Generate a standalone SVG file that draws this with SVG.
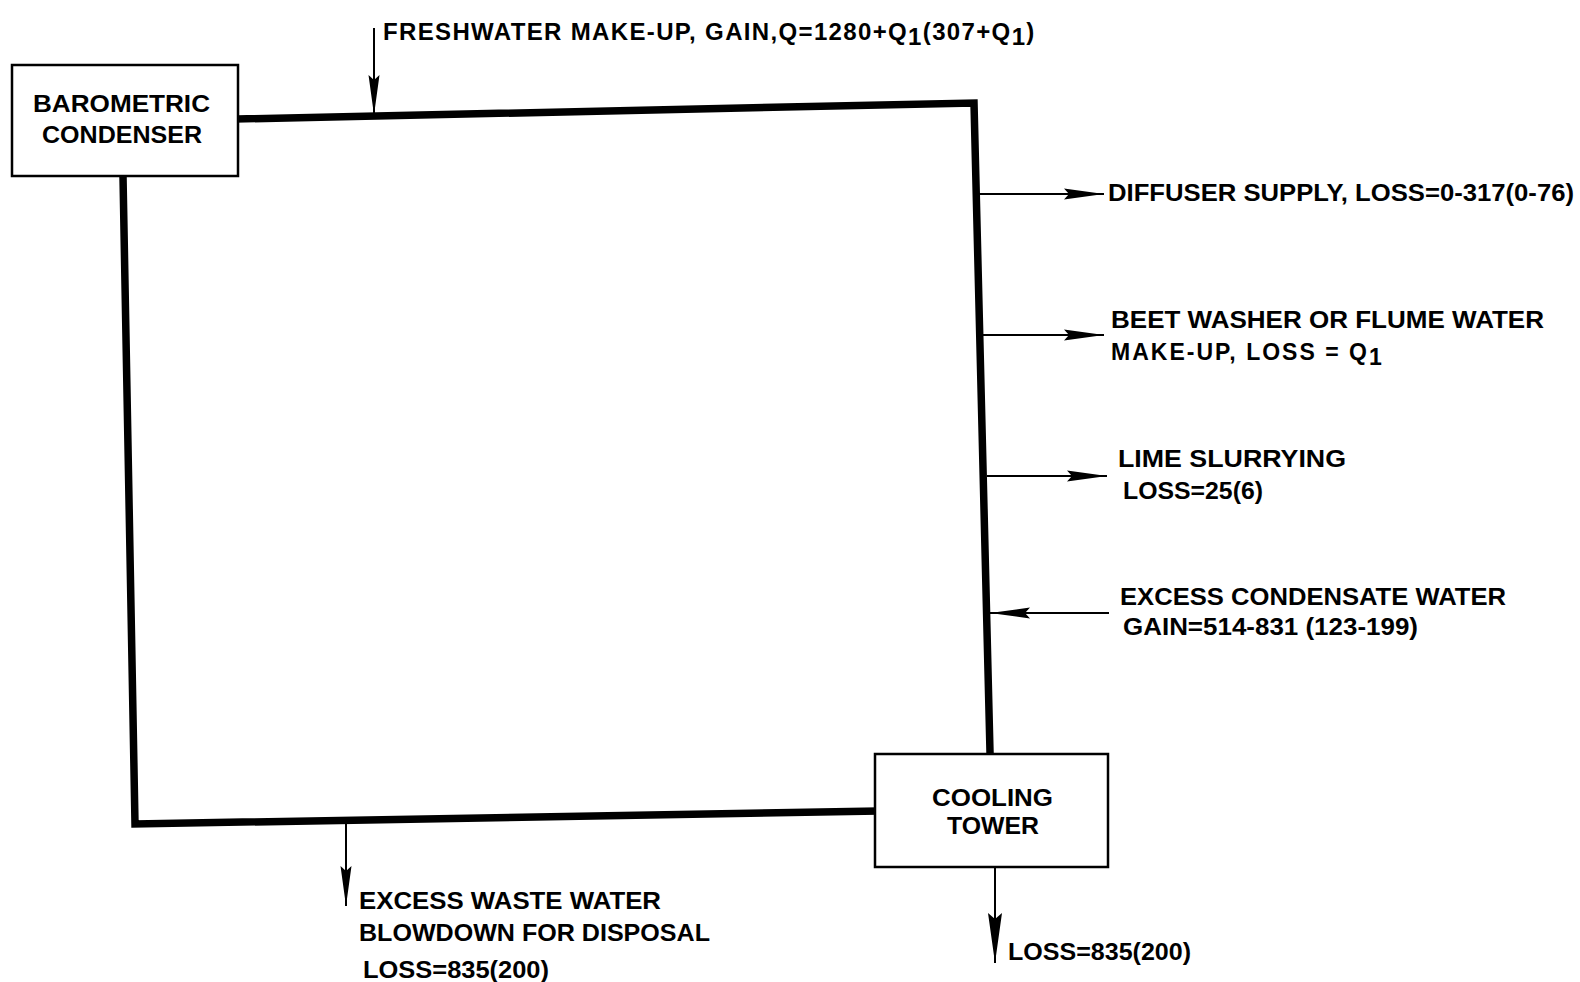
<svg xmlns="http://www.w3.org/2000/svg" width="1580" height="982" viewBox="0 0 1580 982">
<style>
.bg{fill:#fff}
.box{fill:#fff;stroke:#000;stroke-width:2.5}
.pipe{fill:none;stroke:#000;stroke-width:7.5;stroke-linejoin:miter;stroke-linecap:square}
.flow{fill:none;stroke:#000;stroke-width:2}
.lbl{font-family:"Liberation Sans",Arial,sans-serif;font-weight:bold;font-size:23px;fill:#000}
</style>
<defs>
<marker id="ah" viewBox="0 0 40 12" refX="40" refY="6" markerWidth="40" markerHeight="12" markerUnits="userSpaceOnUse" orient="auto">
<path d="M0,0.5 L40,6 L0,11.5 L5,6 z" fill="#000"/>
</marker>
<marker id="ahL" viewBox="0 0 50 14" refX="50" refY="7" markerWidth="50" markerHeight="14" markerUnits="userSpaceOnUse" orient="auto">
<path d="M0,0 L50,7 L0,14 L6,7 z" fill="#000"/>
</marker>
</defs>
<rect class="bg" x="0" y="0" width="1580" height="982"/>
<g id="connectors">
<path class="pipe" d="M238,119 L974,103 L990,752"/>
<path class="pipe" d="M123,176 L135,824 L875,811"/>
<line class="flow" x1="374" y1="28" x2="374" y2="115" marker-end="url(#ah)"/>
<line class="flow" x1="978" y1="194" x2="1104" y2="194" marker-end="url(#ah)"/>
<line class="flow" x1="983" y1="335" x2="1104" y2="335" marker-end="url(#ah)"/>
<line class="flow" x1="987" y1="476" x2="1107" y2="476" marker-end="url(#ah)"/>
<line class="flow" x1="1109" y1="613" x2="990" y2="613" marker-end="url(#ah)"/>
<line class="flow" x1="346" y1="822" x2="346" y2="906" marker-end="url(#ah)"/>
<line class="flow" x1="995" y1="867" x2="995" y2="963" marker-end="url(#ahL)"/>
</g>
<g id="barometric-condenser">
<rect class="box" x="12" y="65" width="226" height="111"/>
<text class="lbl" x="33" y="112" textLength="177" lengthAdjust="spacingAndGlyphs">BAROMETRIC</text>
<text class="lbl" x="42" y="143" textLength="160" lengthAdjust="spacingAndGlyphs">CONDENSER</text>
</g>
<g id="cooling-tower">
<rect class="box" x="875" y="754" width="233" height="113"/>
<text class="lbl" x="932" y="806" textLength="121" lengthAdjust="spacingAndGlyphs">COOLING</text>
<text class="lbl" x="947" y="834" textLength="92" lengthAdjust="spacingAndGlyphs">TOWER</text>
</g>
<g id="freshwater">
<text class="lbl" x="383" y="40" style="font-size:24px;letter-spacing:1.35px">FRESHWATER MAKE-UP, GAIN,Q=1280+Q<tspan dy="5">1</tspan><tspan dy="-5">(307+Q</tspan><tspan dy="5">1</tspan><tspan dy="-5">)</tspan></text>
</g>
<g id="diffuser">
<text class="lbl" x="1108" y="201" textLength="466" lengthAdjust="spacingAndGlyphs">DIFFUSER SUPPLY, LOSS=0-317(0-76)</text>
</g>
<g id="beet-washer">
<text class="lbl" x="1111" y="328" textLength="433" lengthAdjust="spacingAndGlyphs">BEET WASHER OR FLUME WATER</text>
<text class="lbl" x="1111" y="360" style="letter-spacing:2px">MAKE-UP, LOSS = Q<tspan dy="5">1</tspan></text>
</g>
<g id="lime">
<text class="lbl" x="1118" y="467" textLength="228" lengthAdjust="spacingAndGlyphs">LIME SLURRYING</text>
<text class="lbl" x="1123" y="499" textLength="140" lengthAdjust="spacingAndGlyphs">LOSS=25(6)</text>
</g>
<g id="condensate">
<text class="lbl" x="1120" y="605" textLength="386" lengthAdjust="spacingAndGlyphs">EXCESS CONDENSATE WATER</text>
<text class="lbl" x="1123" y="635" textLength="295" lengthAdjust="spacingAndGlyphs">GAIN=514-831 (123-199)</text>
</g>
<g id="blowdown">
<text class="lbl" x="359" y="909" textLength="302" lengthAdjust="spacingAndGlyphs">EXCESS WASTE WATER</text>
<text class="lbl" x="359" y="941" textLength="351" lengthAdjust="spacingAndGlyphs">BLOWDOWN FOR DISPOSAL</text>
<text class="lbl" x="363" y="978" textLength="186" lengthAdjust="spacingAndGlyphs">LOSS=835(200)</text>
</g>
<g id="tower-loss">
<text class="lbl" x="1008" y="960" textLength="183" lengthAdjust="spacingAndGlyphs">LOSS=835(200)</text>
</g>
</svg>
